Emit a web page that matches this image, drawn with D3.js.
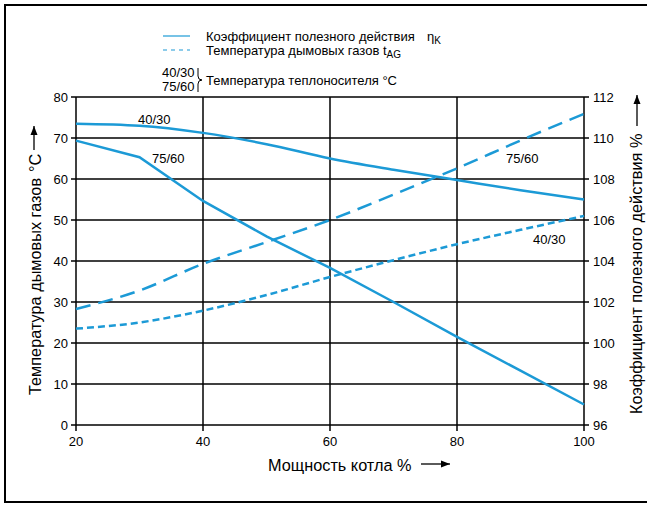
<!DOCTYPE html>
<html><head><meta charset="utf-8">
<script src="https://cdn.jsdelivr.net/npm/d3@7"></script>
<style>
body{margin:0;background:#fff;}
svg{display:block;font-family:"Liberation Sans",Arial,sans-serif;}
</style></head>
<body><svg id="c" width="647" height="505"></svg>
<script>
const load = [20,30,40,50,60,70,80,90,100];
const eff4030 = [110.7,110.6,110.25,109.7,109.0,108.45,107.95,107.45,107.0];
const eff7560 = [109.87,109.06,106.93,105.2,103.66,102.0,100.3,98.65,97.0];
const flue7560 = [28.3,32.8,39.3,44.6,50.0,56.2,62.6,69.4,75.9];
const flue4030 = [23.5,25.0,27.9,31.7,36.1,40.2,44.1,47.6,51.0];
const xTicks = [20,40,60,80,100];
const yLeftTicks = [0,10,20,30,40,50,60,70,80];
const yRightTicks = [96,98,100,102,104,106,108,110,112];

const blue = "#1c9ad6";
const svg = d3.select("#c");
const x = d3.scaleLinear().domain([20,100]).range([76,584]);
const yL = d3.scaleLinear().domain([0,80]).range([425,97]);
const yR = d3.scaleLinear().domain([96,112]).range([425,97]);

// frame
svg.append("rect").attr("x",5).attr("y",5).attr("width",700).attr("height",497)
  .attr("fill","none").attr("stroke","#000").attr("stroke-width",2);

// grid
const g = svg.append("g");
g.selectAll(".h").data(yLeftTicks).join("line")
  .attr("x1",x(20)-5).attr("x2",x(100)+5)
  .attr("y1",d=>yL(d)).attr("y2",d=>yL(d))
  .attr("stroke","#000").attr("stroke-width",1.5);
g.selectAll(".v").data(xTicks).join("line")
  .attr("x1",d=>x(d)).attr("x2",d=>x(d))
  .attr("y1",yL(80)).attr("y2",yL(0)+6)
  .attr("stroke","#000").attr("stroke-width",1.5);

// tick labels
const fs = 13;
svg.append("g").selectAll("text").data(yLeftTicks).join("text")
  .attr("x",x(20)-8).attr("y",d=>yL(d)+4.5).attr("text-anchor","end")
  .attr("font-size",fs).text(d=>d);
svg.append("g").selectAll("text").data(yRightTicks).join("text")
  .attr("x",x(100)+9).attr("y",d=>yR(d)+4.5).attr("text-anchor","start")
  .attr("font-size",fs).text(d=>d);
svg.append("g").selectAll("text").data(xTicks).join("text")
  .attr("x",d=>x(d)).attr("y",446).attr("text-anchor","middle")
  .attr("font-size",fs).text(d=>d);

// curves
const mk = (ys, yscale, curve) => d3.line().x((d,i)=>x(load[i])).y(d=>yscale(d)).curve(curve)(ys);
const plot = svg.append("g").attr("fill","none").attr("stroke",blue).attr("stroke-width",2.5);
plot.append("path").attr("d",mk(eff4030,yR,d3.curveMonotoneX));
plot.append("path").attr("d",mk(eff7560,yR,d3.curveLinear));
plot.append("path").attr("d",mk(flue7560,yL,d3.curveMonotoneX)).attr("stroke-dasharray","15,8");
plot.append("path").attr("d",mk(flue4030,yL,d3.curveMonotoneX)).attr("stroke-dasharray","7,4");

// curve labels
const lab = [[138,124,"40/30"],[152,163,"75/60"],[506,163,"75/60"],[533,244,"40/30"]];
svg.append("g").selectAll("text").data(lab).join("text")
  .attr("x",d=>d[0]).attr("y",d=>d[1]).attr("font-size",13).text(d=>d[2]);

// axis titles
const tfs = 16.3;
svg.append("text").attr("x",268).attr("y",471).attr("font-size",tfs).text("Мощность котла %");
const arrow = (x1,y1,x2,y2) => {
  svg.append("line").attr("x1",x1).attr("y1",y1).attr("x2",x2).attr("y2",y2).attr("stroke","#000").attr("stroke-width",1.3);
  const ang = Math.atan2(y2-y1,x2-x1);
  const L=9, W=3.5;
  const bx = x2 - L*Math.cos(ang), by = y2 - L*Math.sin(ang);
  const px = -Math.sin(ang)*W, py = Math.cos(ang)*W;
  svg.append("path").attr("d",`M${x2},${y2}L${bx+px},${by+py}L${bx-px},${by-py}Z`).attr("fill","#000");
};
arrow(421,464,450,464);

const lt = svg.append("text").attr("transform","translate(41,395) rotate(-90)").attr("font-size",tfs);
lt.append("tspan").text("Температура дымовых газов");
lt.append("tspan").attr("dx",6).text("°С");
arrow(34,150,34,126);

svg.append("text").attr("transform","translate(642,414) rotate(-90)").attr("font-size",tfs)
  .text("Коэффициент полезного действия %");
arrow(637,126,637,95);

// legend
const lg = svg.append("g");
lg.append("line").attr("x1",163).attr("x2",190).attr("y1",36).attr("y2",36).attr("stroke",blue).attr("stroke-width",1.2);
lg.append("line").attr("x1",163).attr("x2",190).attr("y1",50).attr("y2",50).attr("stroke",blue).attr("stroke-width",1.2).attr("stroke-dasharray","4,4");
const t1 = lg.append("text").attr("x",206).attr("y",41).attr("font-size",13);
t1.append("tspan").text("Коэффициент полезного действия");
t1.append("tspan").attr("x",427).text("η");
t1.append("tspan").attr("dy",3).attr("font-size",10).text("K");
const t2 = lg.append("text").attr("x",206).attr("y",55).attr("font-size",13);
t2.append("tspan").text("Температура дымовых газов t");
t2.append("tspan").attr("dy",3).attr("font-size",10).text("AG");
lg.append("text").attr("x",162).attr("y",77).attr("font-size",13).text("40/30");
lg.append("text").attr("x",162).attr("y",91).attr("font-size",13).text("75/60");
lg.append("path").attr("d","M198,68 v8 q0,4 4,4 q-4,0 -4,4 v8").attr("fill","none").attr("stroke","#000").attr("stroke-width",1);
lg.append("text").attr("x",206).attr("y",85).attr("font-size",13).text("Температура теплоносителя °C");
</script></body></html>
